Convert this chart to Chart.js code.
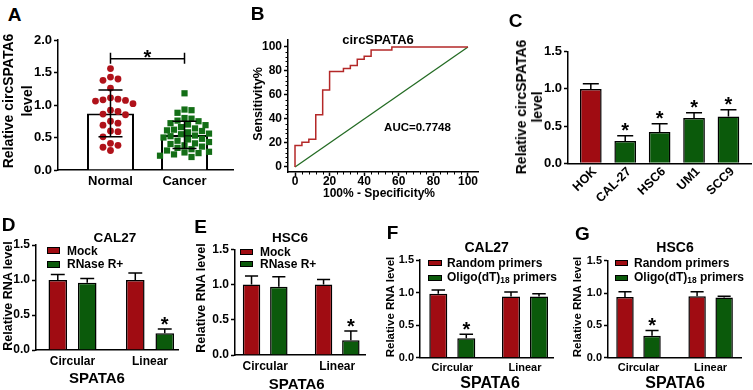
<!DOCTYPE html>
<html>
<head>
<meta charset="utf-8">
<script src="https://cdn.jsdelivr.net/npm/chart.js@4.4.0/dist/chart.umd.min.js"></script>
<style>
  body { margin: 0; background: #fff; }
  #fig { position: relative; width: 753px; height: 390px; overflow: hidden; background: #fff;
         font-family: "Liberation Sans", Arial, sans-serif; font-weight: bold; color: #000; }
  #fig canvas { position: absolute; }
  .t { position: absolute; white-space: nowrap; line-height: 1; z-index: 2; }
  .t sub { font-size: 0.7em; vertical-align: -0.25em; }
  .box { display: inline-block; border: 1px solid #000; box-sizing: border-box; }
</style>
</head>
<body>
<div id="fig"></div>
<script>
// ---- data ----
// A: relative circSPATA6 level per sample
const groupsA = ['Normal', 'Cancer'];
const normalLevels = [1.56, 1.43, 1.40, 1.38, 1.26, 1.11, 1.09, 1.08, 1.07, 1.06, 1.02, 0.92, 0.90,
                      0.86, 0.85, 0.75, 0.72, 0.69, 0.60, 0.59, 0.51, 0.41, 0.38, 0.35, 0.30];
const cancerLevels = [1.18, 0.93, 0.92, 0.88, 0.80, 0.79, 0.76, 0.75, 0.72, 0.70, 0.69, 0.66, 0.64,
                      0.62, 0.61, 0.60, 0.58, 0.56, 0.55, 0.53, 0.52, 0.50, 0.48, 0.47, 0.45, 0.43,
                      0.41, 0.40, 0.38, 0.36, 0.34, 0.32, 0.30, 0.28, 0.27, 0.26, 0.24, 0.22, 0.20];
const meanA = [0.87, 0.54];
const sdA = [0.36, 0.21];
const bracketA = 1.71;

// B: ROC curve (100% - specificity%, sensitivity%)
const rocSpec = [0, 0, 4, 8, 12, 16, 20, 28, 32, 36, 40, 44, 56, 80, 100];
const rocSens = [0, 15.38, 17.95, 20.51, 23.08, 43.59, 64.10, 79.49, 82.05, 84.62, 89.74, 92.31, 97.44, 100, 100];
const diagSpec = [0, 100];
const diagSens = [0, 100];
const rocTicks = [0, 20, 40, 60, 80, 100];

// C: cell lines
const cellLines = ['HOK', 'CAL-27', 'HSC6', 'UM1', 'SCC9'];
const cellLevel = [1.00, 0.30, 0.42, 0.61, 0.63];
const cellErr = [0.07, 0.07, 0.11, 0.07, 0.09];
const cellSig = [false, true, true, true, true];

// D-G: SPATA6 forms
const forms = ['Circular', 'Linear'];
const mockD = [1.00, 1.00], mockErrD = [0.08, 0.10];
const rnaseD = [0.96, 0.24], rnaseErrD = [0.06, 0.06];
const mockE = [1.00, 1.00], mockErrE = [0.12, 0.07];
const rnaseE = [0.97, 0.21], rnaseErrE = [0.14, 0.13];
const randomF = [0.98, 0.94], randomErrF = [0.06, 0.07];
const oligoF = [0.30, 0.94], oligoErrF = [0.06, 0.04];
const randomG = [0.94, 0.95], randomErrG = [0.08, 0.07];
const oligoG = [0.34, 0.93], oligoErrG = [0.08, 0.02];
const levelTicks = [0, 0.5, 1.0, 1.5];

// ---- colours ----
const red = '#a00c12';
const green = '#0b5a0b';
const dotRed = '#b0121a';
const dotGreen = '#136e16';
const fontFam = '"Liberation Sans", Arial, sans-serif';

Chart.defaults.font.family = fontFam;
Chart.defaults.font.weight = 'bold';
Chart.defaults.font.size = 12;
Chart.defaults.color = '#000';
Chart.defaults.animation = false;

const fig = document.getElementById('fig');

// plain html text, centred on (x, y) unless left is set
function addText(html, x, y, size, opts) {
    opts = opts || {};
    const d = document.createElement('div');
    d.className = 't';
    d.innerHTML = html;
    d.style.left = x + 'px';
    d.style.top = y + 'px';
    d.style.fontSize = size + 'px';
    if (opts.lh) d.style.lineHeight = opts.lh;
    let tr = opts.left ? 'translate(0,-50%)' : 'translate(-50%,-50%)';
    if (opts.rotate) tr += ' rotate(-90deg)';
    d.style.transform = tr;
    d.style.textAlign = 'center';
    fig.appendChild(d);
}

function addLegendItem(color, html, x, y, w, h, textX, size) {
    const b = document.createElement('div');
    b.className = 't box';
    b.style.left = x + 'px';
    b.style.top = (y - h / 2) + 'px';
    b.style.width = w + 'px';
    b.style.height = h + 'px';
    b.style.background = color;
    fig.appendChild(b);
    addText(html, textX, y, size, { left: true });
}

// canvas positioned so that the chart area lands on box {l,t,r,b}
function makeCanvas(box, padR) {
    const left = Math.round(box.l) - 50;
    const top = Math.round(box.t) - 14;
    const width = Math.ceil(box.r - left + padR);
    const height = Math.ceil(box.b - top + 60);
    const c = document.createElement('canvas');
    c.width = width;
    c.height = height;
    c.style.left = left + 'px';
    c.style.top = top + 'px';
    c.style.width = width + 'px';
    c.style.height = height + 'px';
    fig.appendChild(c);
    return {
        ctx: c.getContext('2d'),
        yW: box.l - left,
        padT: box.t - top,
        padR: width - (box.r - left),
        xH: height - (box.b - top)
    };
}

function drawStar(ctx, x, y) {
    // y = roughly where the bottom of the star should sit
    ctx.fillStyle = '#000';
    ctx.font = 'bold 20px ' + fontFam;
    ctx.textAlign = 'center';
    ctx.textBaseline = 'alphabetic';
    ctx.fillText('*', x, y + 3.5);
}

// error bars + stars drawn from dataset values
const errorBars = {
    id: 'errorBars',
    afterDatasetsDraw(chart) {
        const ctx = chart.ctx;
        const ys = chart.scales.y;
        chart.data.datasets.forEach((ds, di) => {
            if (!ds.err) return;
            const meta = chart.getDatasetMeta(di);
            meta.data.forEach((bar, i) => {
                const v = ds.data[i].y;
                const top = ys.getPixelForValue(v + ds.err[i]);
                const cap = ds.capWidth || bar.width * 0.75;
                ctx.save();
                ctx.strokeStyle = '#000';
                ctx.lineWidth = 1.5;
                ctx.beginPath();
                ctx.moveTo(bar.x, bar.y);
                ctx.lineTo(bar.x, top);
                ctx.moveTo(bar.x - cap / 2, top);
                ctx.lineTo(bar.x + cap / 2, top);
                if (ds.errBoth) {
                    const bot = ys.getPixelForValue(v - ds.err[i]);
                    ctx.moveTo(bar.x, bar.y);
                    ctx.lineTo(bar.x, bot);
                    ctx.moveTo(bar.x - cap / 2, bot);
                    ctx.lineTo(bar.x + cap / 2, bot);
                }
                ctx.stroke();
                if (ds.sig && ds.sig[i]) drawStar(ctx, bar.x, top - 2);
                ctx.restore();
            });
        });
    }
};

// beeswarm offsets so the dots do not overlap (layout only)
function swarm(values, center, pxX, pxY, d) {
    const placed = [];
    values.slice().sort((a, b) => b - a).forEach(v => {
        let off = 0;
        for (let k = 0; k < 60; k++) {
            const cand = (k % 2 ? 1 : -1) * Math.ceil(k / 2) * d * 0.5;
            const ok = placed.every(p => {
                const dx = (p.off - cand), dy = (p.v - v) * pxY;
                return dx * dx + dy * dy >= d * d * 0.9;
            });
            if (ok) { off = cand; break; }
        }
        placed.push({ v: v, off: off });
    });
    return placed.map(p => ({ x: center + p.off / pxX, y: p.v }));
}

function yAxis(g, min, max, ticks, fmt, size) {
    return {
        type: 'linear', min: min, max: max,
        afterFit: s => { s.width = g.yW; },
        afterBuildTicks: s => { s.ticks = ticks.map(v => ({ value: v })); },
        ticks: { callback: fmt, padding: 2, font: { size: size } },
        grid: { drawOnChartArea: false, tickLength: 4, tickWidth: 1.5, color: '#000' },
        border: { color: '#000', width: 1.5 }
    };
}

function xGroupAxis(g, min, max, labels, size, rot) {
    return {
        type: 'linear', min: min, max: max, offset: false,
        afterFit: s => { s.height = g.xH; },
        afterBuildTicks: s => { s.ticks = labels.map((l, i) => ({ value: i })); },
        ticks: {
            callback: (v, i) => labels[i], padding: 4, autoSkip: false,
            maxRotation: rot || 0, minRotation: rot || 0, font: { size: size }
        },
        grid: { display: true, drawOnChartArea: false, drawTicks: false, offset: false },
        border: { color: '#000', width: 1.5 }
    };
}

function pts(xs, ys) { return xs.map((x, i) => ({ x: x, y: ys[i] })); }

// ---------------- Panel A ----------------
function drawA() {
    const box = { l: 58, t: 40, r: 233, b: 170 };
    const g = makeCanvas(box, 8);
    const xMin = -0.709, xMax = 1.655;
    const pxX = (box.r - box.l) / (xMax - xMin), pxY = (box.b - box.t) / 2;
    const bracket = {
        id: 'bracket',
        afterDatasetsDraw(chart) {
            const ctx = chart.ctx, xs = chart.scales.x, ys = chart.scales.y;
            const x0 = xs.getPixelForValue(0), x1 = xs.getPixelForValue(1);
            const y = ys.getPixelForValue(bracketA);
            ctx.save();
            ctx.strokeStyle = '#000';
            ctx.lineWidth = 1.5;
            ctx.beginPath();
            ctx.moveTo(x0, y); ctx.lineTo(x1, y);
            ctx.moveTo(x0, y - 6); ctx.lineTo(x0, y + 5);
            ctx.moveTo(x1, y - 6); ctx.lineTo(x1, y + 5);
            ctx.stroke();
            drawStar(ctx, (x0 + x1) / 2, y + 2);
            ctx.restore();
        }
    };
    new Chart(g.ctx, {
        type: 'bar',
        data: {
            datasets: [
                {
                    type: 'scatter', order: 0,
                    data: swarm(normalLevels, 0, pxX, pxY, 7.5),
                    backgroundColor: dotRed, borderColor: dotRed, pointRadius: 3.4, borderWidth: 0
                },
                {
                    type: 'scatter', order: 0,
                    data: swarm(cancerLevels, 1, pxX, pxY, 7),
                    pointStyle: 'rect',
                    backgroundColor: dotGreen, borderColor: dotGreen, pointRadius: 4.4, borderWidth: 0
                },
                {
                    type: 'bar', order: 1,
                    data: pts([0, 1], meanA),
                    err: sdA, errBoth: true, capWidth: 24,
                    backgroundColor: '#fff', borderColor: '#000', borderWidth: 2,
                    barPercentage: 1, categoryPercentage: 0.635
                }
            ]
        },
        options: {
            responsive: false,
            layout: { padding: { left: 0, top: g.padT, right: g.padR, bottom: 0 } },
            plugins: { legend: { display: false }, tooltip: { enabled: false } },
            scales: {
                x: xGroupAxis(g, xMin, xMax, groupsA, 13),
                y: yAxis(g, 0, 2, [0, 0.5, 1, 1.5, 2], v => v.toFixed(1), 13)
            }
        },
        plugins: [errorBars, bracket]
    });
    addText('A', 14.5, 13.5, 19);
    addText('Relative circSPATA6<br>level', 17.5, 101, 14, { rotate: true, lh: '19px' });
}

// ---------------- Panel B ----------------
function drawB() {
    const box = { l: 288, t: 40, r: 478, b: 172 };
    const g = makeCanvas(box, 14);
    const minorTicks = {
        id: 'minorTicks',
        afterDraw(chart) {
            const ctx = chart.ctx, xs = chart.scales.x, ys = chart.scales.y;
            ctx.save();
            ctx.strokeStyle = '#000';
            ctx.lineWidth = 1;
            ctx.beginPath();
            for (let v = 4; v < 100; v += 4) {
                if (v % 20 === 0) continue;
                const px = Math.round(xs.getPixelForValue(v)) + 0.5;
                ctx.moveTo(px, xs.top); ctx.lineTo(px, xs.top + 2.5);
                const py = Math.round(ys.getPixelForValue(v)) + 0.5;
                ctx.moveTo(ys.right, py); ctx.lineTo(ys.right - 2.5, py);
            }
            ctx.stroke();
            ctx.restore();
        }
    };
    const fmt = v => String(v);
    const xa = yAxis(g, -4.05, 105.8, rocTicks, fmt, 12);
    xa.afterFit = s => { s.height = g.xH; };
    xa.ticks.padding = -2;
    new Chart(g.ctx, {
        type: 'line',
        data: {
            datasets: [
                {
                    data: pts(rocSpec, rocSens), stepped: 'after',
                    borderColor: '#b42828', borderWidth: 1.5, pointRadius: 0, fill: false
                },
                {
                    data: pts(diagSpec, diagSens),
                    borderColor: '#236b23', borderWidth: 1.3, pointRadius: 0, fill: false
                }
            ]
        },
        options: {
            responsive: false,
            layout: { padding: { left: 0, top: g.padT, right: g.padR, bottom: 0 } },
            plugins: { legend: { display: false }, tooltip: { enabled: false } },
            scales: {
                x: xa,
                y: yAxis(g, -4.2, 105.8, rocTicks, fmt, 12)
            }
        },
        plugins: [minorTicks]
    });
    addText('B', 257.5, 12.5, 19);
    addText('circSPATA6', 378, 39, 13);
    addText('AUC=0.7748', 417.5, 128, 11.5);
    addText('Sensitivity%', 258, 104, 12.5, { rotate: true });
    addText('100% - Specificity%', 379, 193, 12);
}

// ---------------- Panel C ----------------
function drawC() {
    const box = { l: 568, t: 51.7, r: 751.5, b: 163.3 };
    const g = makeCanvas(box, 6);
    const xa = xGroupAxis(g, -0.663, 4.67, cellLines, 12.5, 45);
    xa.ticks.padding = 1;
    xa.ticks.labelOffset = 4;
    new Chart(g.ctx, {
        type: 'bar',
        data: {
            datasets: [{
                data: pts([0, 1, 2, 3, 4], cellLevel),
                err: cellErr, sig: cellSig, capWidth: 16,
                backgroundColor: cellLines.map((c, i) => i === 0 ? red : green),
                borderColor: '#000', borderWidth: 1.5,
                barPercentage: 1, categoryPercentage: 0.63
            }]
        },
        options: {
            responsive: false,
            layout: { padding: { left: 0, top: g.padT, right: g.padR, bottom: 0 } },
            plugins: { legend: { display: false }, tooltip: { enabled: false } },
            scales: {
                x: xa,
                y: yAxis(g, 0, 1.5, levelTicks, v => v.toFixed(1), 13)
            }
        },
        plugins: [errorBars]
    });
    addText('C', 515.5, 20, 19);
    addText('Relative circSPATA6<br>level', 528.5, 107, 14, { rotate: true, lh: '16px' });
}

// ---------------- Panels D-G ----------------
function drawGrouped(p) {
    const g = makeCanvas(p.box, 8);
    new Chart(g.ctx, {
        type: 'bar',
        data: {
            datasets: [
                {
                    data: pts([0, 1], p.a), err: p.aErr,
                    backgroundColor: red, borderColor: '#000', borderWidth: 1.5,
                    barPercentage: p.barPct, categoryPercentage: p.catPct
                },
                {
                    data: pts([0, 1], p.b), err: p.bErr, sig: p.sig,
                    backgroundColor: green, borderColor: '#000', borderWidth: 1.5,
                    barPercentage: p.barPct, categoryPercentage: p.catPct
                }
            ]
        },
        options: {
            responsive: false,
            layout: { padding: { left: 0, top: g.padT, right: g.padR, bottom: 0 } },
            plugins: { legend: { display: false }, tooltip: { enabled: false } },
            scales: {
                x: xGroupAxis(g, p.xMin, p.xMax, forms, p.tick),
                y: yAxis(g, 0, 1.5, levelTicks, v => v.toFixed(1), p.tick)
            }
        },
        plugins: [errorBars]
    });
    addText(p.letter, p.letterPos[0], p.letterPos[1], 19);
    addText(p.title, p.titlePos[0], p.titlePos[1], p.titleSize);
    addText('Relative RNA level', p.yTitle[0], p.yTitle[1], p.yTitleSize, { rotate: true });
    addText('SPATA6', p.xTitle[0], p.xTitle[1], p.xTitleSize);
    addLegendItem(red, p.names[0], p.leg.x, p.leg.y1, p.leg.w, p.leg.h, p.leg.tx, p.leg.size);
    addLegendItem(green, p.names[1], p.leg.x, p.leg.y2, p.leg.w, p.leg.h, p.leg.tx, p.leg.size);
}

drawA();
drawB();
drawC();

drawGrouped({
    box: { l: 36, t: 245, r: 178, b: 350 }, xMin: -0.471, xMax: 1.361,
    a: mockD, aErr: mockErrD, b: rnaseD, bErr: rnaseErrD, sig: [false, true],
    barPct: 0.63, catPct: 0.76, tick: 12,
    letter: 'D', letterPos: [8.5, 224], title: 'CAL27', titlePos: [115, 238.3], titleSize: 13.5,
    yTitle: [7.5, 296], yTitleSize: 12.5, xTitle: [97, 376.7], xTitleSize: 15,
    names: ['Mock', 'RNase R+'],
    leg: { x: 47, y1: 250.7, y2: 264, w: 13, h: 7, tx: 67, size: 12 }
});

drawGrouped({
    box: { l: 235, t: 249.3, r: 365, b: 355 }, xMin: -0.419, xMax: 1.386,
    a: mockE, aErr: mockErrE, b: rnaseE, bErr: rnaseErrE, sig: [false, true],
    barPct: 0.64, catPct: 0.758, tick: 12,
    letter: 'E', letterPos: [200.5, 226], title: 'HSC6', titlePos: [290, 238], titleSize: 13.5,
    yTitle: [201, 298], yTitleSize: 12.5, xTitle: [296.7, 382.7], xTitleSize: 15,
    names: ['Mock', 'RNase R+'],
    leg: { x: 240, y1: 252, y2: 264, w: 13, h: 6, tx: 260, size: 12 }
});

drawGrouped({
    box: { l: 420, t: 260, r: 553, b: 357.7 }, xMin: -0.444, xMax: 1.385,
    a: randomF, aErr: randomErrF, b: oligoF, bErr: oligoErrF, sig: [true, false],
    barPct: 0.643, catPct: 0.77, tick: 11,
    letter: 'F', letterPos: [392.5, 231.5], title: 'CAL27', titlePos: [486.7, 246.7], titleSize: 14,
    yTitle: [391, 307], yTitleSize: 11.5, xTitle: [490, 383.3], xTitleSize: 16,
    names: ['Random primers', 'Oligo(dT)<sub>18</sub> primers'],
    leg: { x: 428, y1: 263, y2: 278, w: 14, h: 6, tx: 447, size: 12 }
});

drawGrouped({
    box: { l: 608, t: 260.7, r: 741.7, b: 357.7 }, xMin: -0.423, xMax: 1.431,
    a: randomG, aErr: randomErrG, b: oligoG, bErr: oligoErrG, sig: [true, false],
    barPct: 0.645, catPct: 0.75, tick: 11,
    letter: 'G', letterPos: [582.5, 232.5], title: 'HSC6', titlePos: [675, 246.7], titleSize: 14,
    yTitle: [578, 307], yTitleSize: 11.5, xTitle: [675, 383.3], xTitleSize: 16,
    names: ['Random primers', 'Oligo(dT)<sub>18</sub> primers'],
    leg: { x: 615, y1: 262.5, y2: 278.3, w: 13, h: 6, tx: 634, size: 12 }
});
</script>
</body>
</html>
